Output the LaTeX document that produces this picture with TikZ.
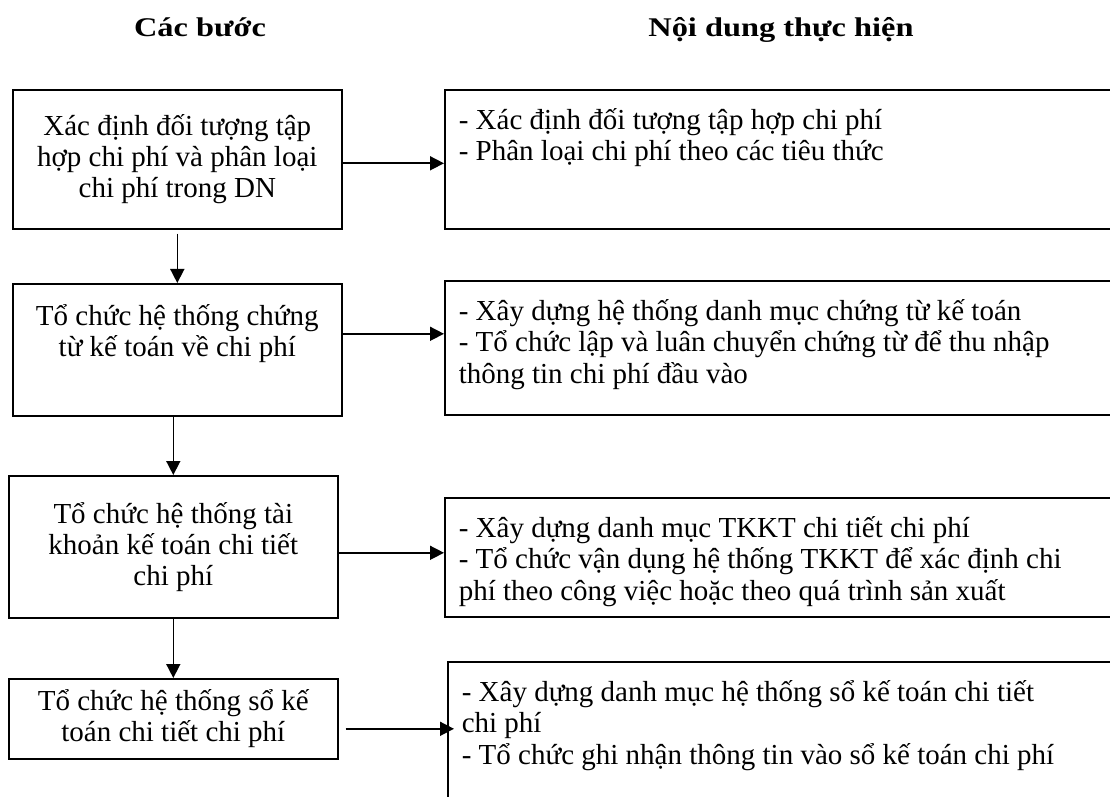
\documentclass[tikz,border=0pt]{standalone}
\usepackage{fontspec}
\setmainfont{Liberation Serif}
\newfontfamily\headfont[FakeStretch=1.2]{Liberation Serif}
\usetikzlibrary{arrows.meta}
\newcommand{\rtext}[2]{\parbox[t][#1][t]{330pt}{\strut #2}}

\begin{document}
\begin{tikzpicture}[x=0.5pt,y=0.5pt,yscale=-1,xscale=1,
  font=\fontsize{14.5}{15.6}\selectfont,
  lbox/.style={draw, line width=0.8pt, anchor=north west, align=center, minimum width=164.5pt, inner sep=0pt},
  rbox/.style={draw, line width=0.8pt, anchor=north west, inner xsep=7pt, inner ysep=9pt},
  head/.style={font=\headfont\bfseries\fontsize{13.5}{15}\selectfont, text height=10pt, text depth=3.5pt},
  arr/.style={line width=0.8pt, -{Triangle[length=7pt,width=7pt]}}]
\clip (0,0) rectangle (1110,797);

% Text Node
\node[head] (h1) at (200,30) {Các bước};
% Text Node
\node[head] (h2) at (781,30) {Nội dung thực hiện};

%Shape: Rectangle
\node[lbox, minimum height=69.5pt] (l1) at (12,89) {Xác định đối tượng tập\\hợp chi phí và phân loại\\chi phí trong DN};
%Shape: Rectangle
\node[lbox, minimum height=66pt] (l2) at (12,283) {Tổ chức hệ thống chứng\\từ kế toán về chi phí\\[4pt]\mbox{}};
%Shape: Rectangle
\node[lbox, minimum height=71pt] (l3) at (8,475) {Tổ chức hệ thống tài\\khoản kế toán chi tiết\\chi phí};
%Shape: Rectangle
\node[lbox, minimum height=40pt] (l4) at (8,678) {Tổ chức hệ thống sổ kế\\toán chi tiết chi phí};

%Shape: Rectangle
\node[rbox] (r1) at (444,89) {\rtext{51.5pt}{- Xác định đối tượng tập hợp chi phí\\- Phân loại chi phí theo các tiêu thức}};
%Shape: Rectangle
\node[rbox] (r2) at (444,280) {\rtext{49pt}{- Xây dựng hệ thống danh mục chứng từ kế toán\\- Tổ chức lập và luân chuyển chứng từ để thu nhập\\thông tin chi phí đầu vào}};
%Shape: Rectangle
\node[rbox] (r3) at (444,497) {\rtext{41.5pt}{- Xây dựng danh mục TKKT chi tiết chi phí\\- Tổ chức vận dụng hệ thống TKKT để xác định chi\\phí theo công việc hoặc theo quá trình sản xuất}};
%Shape: Rectangle
\node[rbox] (r4) at (447,661) {\rtext{60pt}{- Xây dựng danh mục hệ thống sổ kế toán chi tiết\\chi phí\\- Tổ chức ghi nhận thông tin vào sổ kế toán chi phí}};

%Straight Lines
\draw[arr] ([yshift=2pt]l1.south) -- (l2.north);
%Straight Lines
\draw[arr] (l3.north |- l2.south) -- (l3.north);
%Straight Lines
\draw[arr] (l3.south) -- (l4.north);

%Straight Lines
\draw[arr] ([yshift=2pt]l1.east) -- ([yshift=2pt]l1.east -| r1.west);
%Straight Lines
\draw[arr] ([yshift=-8pt]l2.east) -- ([yshift=-8pt]l2.east -| r2.west);
%Straight Lines
\draw[arr] ([yshift=3pt]l3.east) -- ([yshift=3pt]l3.east -| r3.west);
%Straight Lines
\draw[arr] ([xshift=3.5pt,yshift=5pt]l4.east) -- ([xshift=3.5pt,yshift=5pt]l4.east -| r4.west);

\end{tikzpicture}
\end{document}
